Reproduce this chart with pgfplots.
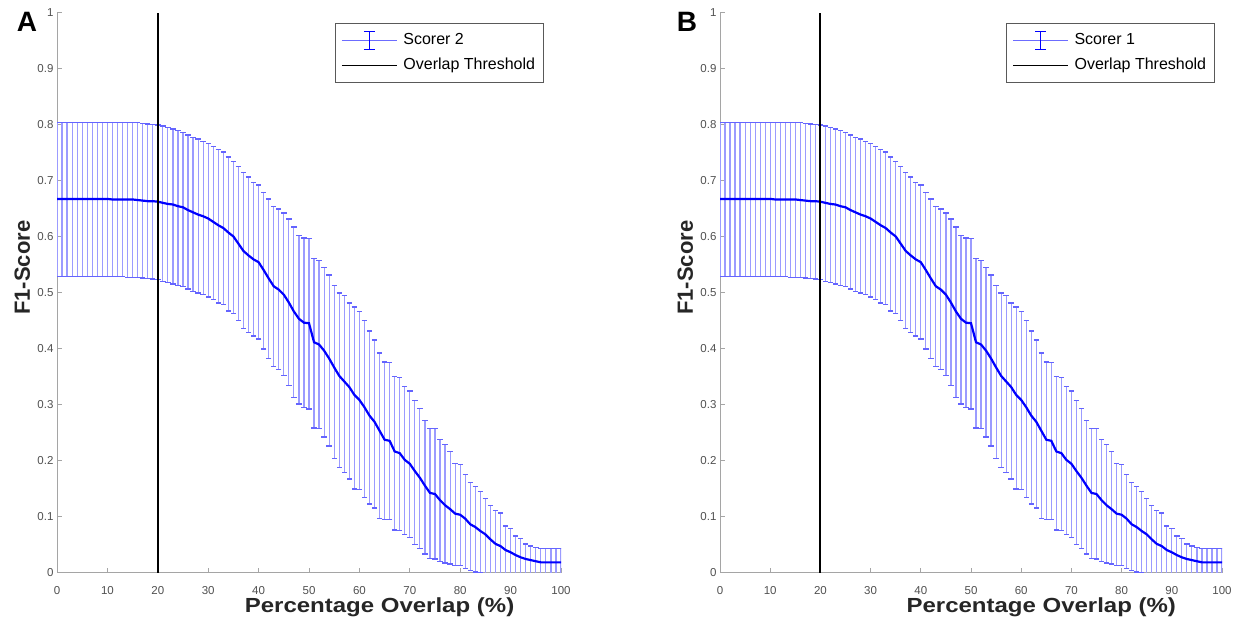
\documentclass[border=0pt]{standalone}
\usepackage{graphicx}
\usepackage{pgfplots}
\pgfplotsset{compat=1.18}
\usepackage{pgfplotstable}
\usepackage{fontspec}
\setmainfont{Liberation Sans}
\definecolor{mblue}{RGB}{0,0,255}
\definecolor{ebar}{RGB}{155,155,255}
\definecolor{ecap}{RGB}{100,100,255}
\definecolor{axgray}{RGB}{165,165,165}
\definecolor{tkgray}{RGB}{80,80,80}

\pgfplotstableread{
x m u l
0 0.668 0.805 0.529
1 0.668 0.805 0.529
2 0.668 0.805 0.529
3 0.668 0.805 0.529
4 0.668 0.805 0.529
5 0.668 0.805 0.529
6 0.668 0.805 0.529
7 0.668 0.805 0.529
8 0.668 0.805 0.529
9 0.668 0.805 0.529
10 0.668 0.805 0.529
11 0.667 0.805 0.529
12 0.667 0.805 0.529
13 0.667 0.805 0.529
14 0.667 0.805 0.528
15 0.667 0.804 0.528
16 0.666 0.804 0.528
17 0.665 0.803 0.527
18 0.664 0.802 0.526
19 0.664 0.801 0.525
20 0.663 0.800 0.524
21 0.661 0.798 0.521
22 0.659 0.796 0.519
23 0.658 0.793 0.516
24 0.655 0.790 0.514
25 0.653 0.786 0.511
26 0.648 0.782 0.507
27 0.644 0.778 0.503
28 0.640 0.775 0.500
29 0.637 0.771 0.497
30 0.633 0.767 0.493
31 0.627 0.762 0.488
32 0.621 0.756 0.482
33 0.616 0.752 0.479
34 0.608 0.743 0.468
35 0.601 0.735 0.463
36 0.588 0.726 0.451
37 0.575 0.715 0.437
38 0.567 0.707 0.430
39 0.560 0.697 0.423
40 0.555 0.693 0.418
41 0.541 0.679 0.400
42 0.526 0.668 0.383
43 0.512 0.654 0.369
44 0.506 0.650 0.363
45 0.497 0.643 0.353
46 0.483 0.632 0.335
47 0.467 0.618 0.314
48 0.454 0.603 0.302
49 0.447 0.598 0.295
50 0.446 0.597 0.293
51 0.412 0.561 0.259
52 0.408 0.558 0.258
53 0.397 0.546 0.243
54 0.383 0.532 0.227
55 0.367 0.513 0.205
56 0.352 0.500 0.189
57 0.342 0.495 0.179
58 0.332 0.482 0.168
59 0.318 0.475 0.150
60 0.309 0.467 0.149
61 0.296 0.451 0.135
62 0.281 0.432 0.123
63 0.270 0.416 0.116
64 0.254 0.393 0.097
65 0.238 0.377 0.095
66 0.236 0.376 0.095
67 0.217 0.351 0.077
68 0.214 0.349 0.076
69 0.202 0.333 0.069
70 0.195 0.325 0.063
71 0.182 0.308 0.051
72 0.170 0.294 0.044
73 0.156 0.272 0.034
74 0.143 0.258 0.026
75 0.141 0.258 0.025
76 0.130 0.239 0.021
77 0.121 0.230 0.018
78 0.114 0.217 0.016
79 0.106 0.195 0.014
80 0.104 0.194 0.013
81 0.097 0.176 0.008
82 0.087 0.161 0.004
83 0.082 0.155 0.002
84 0.075 0.146 0.001
85 0.069 0.133 -0.02
86 0.060 0.121 -0.02
87 0.052 0.111 -0.02
88 0.048 0.107 -0.02
89 0.041 0.084 -0.02
90 0.037 0.080 -0.02
91 0.032 0.066 -0.02
92 0.028 0.061 -0.02
93 0.025 0.052 -0.02
94 0.023 0.048 -0.02
95 0.021 0.045 -0.02
96 0.019 0.044 -0.02
97 0.019 0.044 -0.02
98 0.019 0.044 -0.02
99 0.019 0.044 -0.02
100 0.019 0.044 -0.02
}\dataA

\pgfplotsset{
  f1panel/.style={
    scale only axis,
    width=#1, height=560pt,
    xmin=0, xmax=100, ymin=0, ymax=1,
    axis x line*=bottom, axis y line*=left,
    axis line style={-, axgray, line width=1pt},
    every tick/.style={axgray, line width=1pt},
    tick align=inside, major tick length=5pt,
    xtick={0,10,...,100},
    ytick={0,0.1,0.2,0.3,0.4,0.5,0.6,0.7,0.8,0.9,1},
    yticklabels={0,0.1,0.2,0.3,0.4,0.5,0.6,0.7,0.8,0.9,1},
    /pgf/number format/assume math mode=true,
    tick label style={font=\fontsize{11.5}{13}\selectfont, text=tkgray},
    xticklabel style={inner sep=1pt, yshift=-12pt},
    xlabel={\scalebox{1}[0.85]{Percentage Overlap (\%)}},
    ylabel={F1-Score},
    xlabel style={at={(rel axis cs:0.64,0)}, anchor=base, inner sep=0pt, yshift=-39.5pt, font=\fontsize{24}{26}\selectfont\bfseries, text=black!85},
    ylabel style={at={(axis description cs:-0.069,0.545)}, anchor=center, font=\fontsize{22}{24}\selectfont\bfseries, text=black!85},
    legend style={anchor=north west, draw=black!65, line width=0.8pt, fill=white,
      font=\fontsize{16}{18}\selectfont, inner xsep=6pt, inner ysep=7.5pt,
      row sep=6pt, column sep=4pt,
      nodes={inner sep=2pt, text height=11.5pt, text depth=3.5pt}},
    legend cell align=left,
    clip=true,
  },
  errstyle/.style={draw=none, mark=none, forget plot,
    error bars/.cd, y dir=both, y explicit,
    error bar style={ebar, line width=1.2pt},
    error mark options={rotate=90, ecap, line width=1.3pt, mark size=2.7pt}},
  meanstyle/.style={mblue, line width=2.2pt, mark=none,
    legend image code/.code={
      \draw[ebar!70!mblue, line width=1pt] (0pt,0pt) -- (55pt,0pt);
      \draw[mblue, line width=1.3pt] (27.5pt,-9pt) -- (27.5pt,9pt);
      \draw[mblue, line width=1.3pt] (22pt,-9pt) -- (33pt,-9pt);
      \draw[mblue, line width=1.3pt] (22pt,9pt) -- (33pt,9pt);
    }},
  thrstyle/.style={black, line width=2pt, mark=none,
    legend image code/.code={
      \draw[black, line width=1pt] (0pt,0pt) -- (55pt,0pt);
    }},
}

\begin{document}
\begin{tikzpicture}
\useasboundingbox (0pt,0pt) rectangle (1245pt,617pt);

\begin{axis}[f1panel=504pt, at={(57pt,44pt)}, anchor=south west,
  legend style={at={(0.5516,0.982)}}]
\addplot[errstyle] table[x=x, y=m,
  y error plus expr=\thisrow{u}-\thisrow{m},
  y error minus expr=\thisrow{m}-\thisrow{l}] {\dataA};
\addplot[meanstyle] table[x=x, y=m] {\dataA};
\addlegendentry{Scorer 2}
\addplot[thrstyle] coordinates {(20,0) (20,1)};
\addlegendentry{Overlap Threshold}
\end{axis}

\begin{axis}[f1panel=502pt, at={(720pt,44pt)}, anchor=south west,
  legend style={at={(0.570,0.982)}}]
\addplot[errstyle] table[x=x, y=m,
  y error plus expr=\thisrow{u}-\thisrow{m},
  y error minus expr=\thisrow{m}-\thisrow{l}] {\dataA};
\addplot[meanstyle] table[x=x, y=m] {\dataA};
\addlegendentry{Scorer 1}
\addplot[thrstyle] coordinates {(20,0) (20,1)};
\addlegendentry{Overlap Threshold}
\end{axis}

\node[font=\fontsize{28}{30}\selectfont\bfseries] at (27pt,595pt) {A};
\node[font=\fontsize{28}{30}\selectfont\bfseries] at (687pt,595pt) {B};
\end{tikzpicture}
\end{document}
